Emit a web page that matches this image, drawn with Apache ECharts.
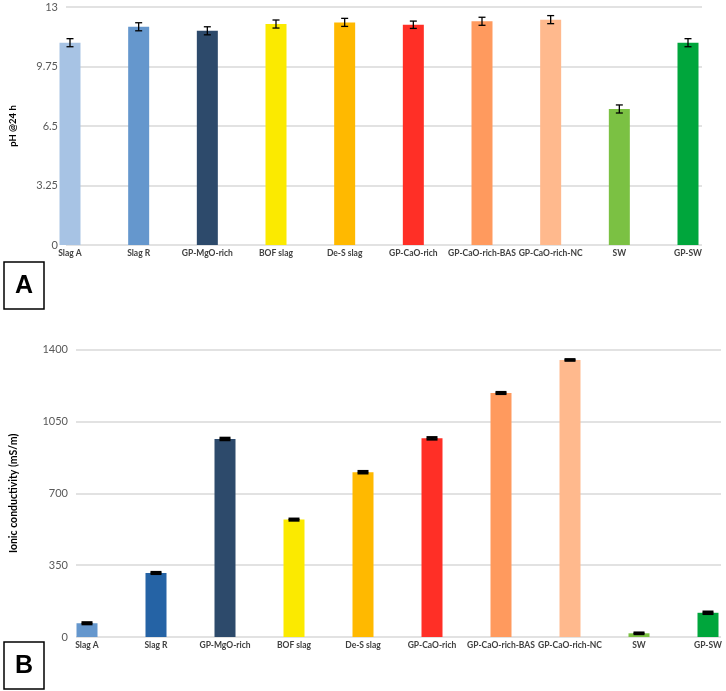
<!DOCTYPE html>
<html>
<head>
<meta charset="utf-8">
<script src="https://cdn.jsdelivr.net/npm/echarts@6/dist/echarts.min.js"></script>
<style>
  html, body { margin: 0; padding: 0; background: #fff; }
  #main { width: 726px; height: 691px; }
</style>
</head>
<body>
<div id="main"></div>
<script>
// samples (same order in both panels)
var samples = ["Slag A", "Slag R", "GP-MgO-rich", "BOF slag", "De-S slag", "GP-CaO-rich",
               "GP-CaO-rich-BAS", "GP-CaO-rich-NC", "SW", "GP-SW"];

// panel A : pH after 24 h
var phValues = [11.05, 11.92, 11.70, 12.07, 12.16, 12.03, 12.22, 12.31, 7.43, 11.05];
var phErrors = [0.22, 0.22, 0.22, 0.22, 0.22, 0.20, 0.22, 0.22, 0.22, 0.22];

// panel B : ionic conductivity (mS/m)
var condValues = [67, 312, 965, 572, 803, 968, 1189, 1350, 18, 118];
var condErrors = [4, 4, 5, 4, 5, 5, 4, 3, 3, 5];

var colorsA = ["#a7c3e4", "#6597cd", "#2d4a6b", "#fbea00", "#ffb900", "#ff2f26",
               "#ff9a5e", "#ffb98d", "#7bc143", "#00a63c"];
var colorsB = ["#6597cd", "#2563a5", "#2d4a6b", "#fbea00", "#ffb900", "#ff2f26",
               "#ff9a5e", "#ffb98d", "#7bc143", "#00a63c"];

var chart = echarts.init(document.getElementById('main'));

function errBar(values, errors, xi, yi, capHalf, lw) {
    var data = [];
    for (var i = 0; i < values.length; i++) {
        data.push([i, values[i] - errors[i], values[i] + errors[i]]);
    }
    return {
        type: 'custom',
        xAxisIndex: xi,
        yAxisIndex: yi,
        z: 10,
        data: data,
        renderItem: function (params, api) {
            var lo = api.coord([api.value(0), api.value(1)]);
            var hi = api.coord([api.value(0), api.value(2)]);
            var st = { stroke: '#000', lineWidth: lw };
            return {
                type: 'group',
                children: [
                    { type: 'line', shape: { x1: hi[0], y1: hi[1], x2: lo[0], y2: lo[1] }, style: st },
                    { type: 'line', shape: { x1: hi[0] - capHalf, y1: hi[1], x2: hi[0] + capHalf, y2: hi[1] }, style: st },
                    { type: 'line', shape: { x1: lo[0] - capHalf, y1: lo[1], x2: lo[0] + capHalf, y2: lo[1] }, style: st }
                ]
            };
        }
    };
}

var tickLabel = { color: '#595959', fontSize: 11, fontFamily: 'Lato',
                  formatter: function (v) { return String(v); } };
var catLabel = { color: '#404040', fontSize: 8.5, fontWeight: 'bold', fontFamily: 'Lato', interval: 0, margin: 4 };
var split = { show: true, lineStyle: { color: '#d9d9d9', width: 1.5 } };

var option = {
    animation: false,
    backgroundColor: '#fff',
    grid: [
        { left: 56, width: 646, top: 7, height: 238 },          // A gridlines
        { left: 70, width: 618, top: 7, height: 238 },          // A bars
        { left: 73, width: 648, top: 349.7, height: 287.3 },    // B gridlines
        { left: 87, width: 621, top: 349.7, height: 287.3 }     // B bars
    ],
    xAxis: [
        { gridIndex: 0, type: 'value', min: 0, max: 1, show: false },
        { gridIndex: 1, type: 'category', data: samples, boundaryGap: false,
          axisLine: { show: false }, axisTick: { show: false }, axisLabel: catLabel },
        { gridIndex: 2, type: 'value', min: 0, max: 1, show: false },
        { gridIndex: 3, type: 'category', data: samples, boundaryGap: false,
          axisLine: { show: false }, axisTick: { show: false }, axisLabel: catLabel }
    ],
    yAxis: [
        { gridIndex: 0, type: 'value', min: 0, max: 13, interval: 3.25,
          axisLine: { show: false }, axisTick: { show: false }, splitLine: split,
          axisLabel: tickLabel,
          name: 'pH @24 h', nameLocation: 'middle', nameRotate: 90, nameGap: 48,
          nameTextStyle: { fontSize: 9.5, fontWeight: 'bold', color: '#000', fontFamily: 'Lato' } },
        { gridIndex: 1, type: 'value', min: 0, max: 13, show: false },
        { gridIndex: 2, type: 'value', min: 0, max: 1400, interval: 350,
          axisLine: { show: false }, axisTick: { show: false }, splitLine: split,
          axisLabel: tickLabel,
          name: 'Ionic conductivity (mS/m)', nameLocation: 'middle', nameRotate: 90, nameGap: 57,
          nameTextStyle: { fontSize: 10.5, fontWeight: 'bold', color: '#000', fontFamily: 'Lato' } },
        { gridIndex: 3, type: 'value', min: 0, max: 1400, show: false }
    ],
    series: [
        { type: 'bar', xAxisIndex: 1, yAxisIndex: 1, barWidth: 21, clip: false,
          data: phValues.map(function (v, i) { return { value: v, itemStyle: { color: colorsA[i] } }; }) },
        errBar(phValues, phErrors, 1, 1, 3.5, 1.3),
        { type: 'bar', xAxisIndex: 3, yAxisIndex: 3, barWidth: 21, clip: false,
          data: condValues.map(function (v, i) { return { value: v, itemStyle: { color: colorsB[i] } }; }) },
        errBar(condValues, condErrors, 3, 3, 5.5, 2.5)
    ],
    graphic: [
        { type: 'rect', shape: { x: 4, y: 262, width: 40, height: 47 },
          style: { fill: '#fff', stroke: '#000', lineWidth: 1.5 } },
        { type: 'text', x: 24, y: 286, style: { text: 'A', fontSize: 25, fontWeight: 'bold',
          fontFamily: 'Liberation Sans', fill: '#000', align: 'center', verticalAlign: 'middle' } },
        { type: 'rect', shape: { x: 4, y: 642, width: 40, height: 47 },
          style: { fill: '#fff', stroke: '#000', lineWidth: 1.5 } },
        { type: 'text', x: 24, y: 666, style: { text: 'B', fontSize: 25, fontWeight: 'bold',
          fontFamily: 'Liberation Sans', fill: '#000', align: 'center', verticalAlign: 'middle' } }
    ]
};
chart.setOption(option);
</script>
</body>
</html>
